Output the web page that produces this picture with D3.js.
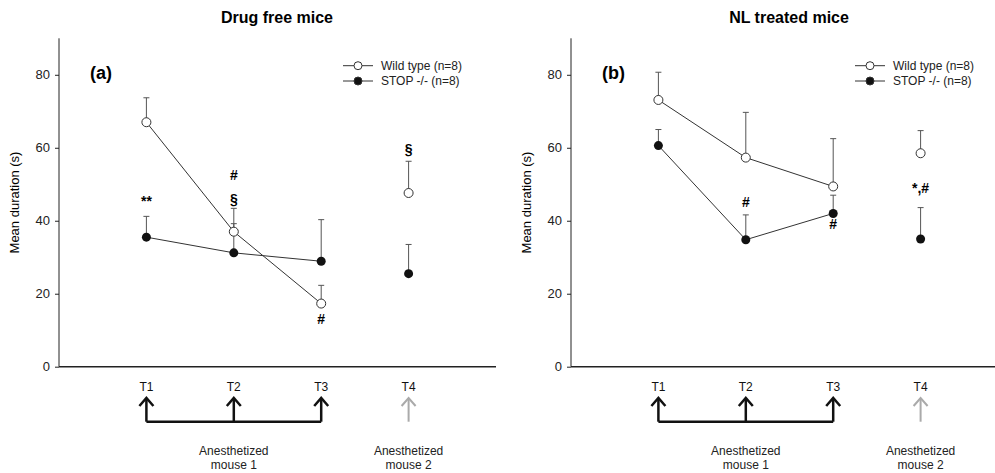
<!DOCTYPE html>
<html>
<head>
<meta charset="utf-8">
<script src="https://cdn.jsdelivr.net/npm/d3@7"></script>
<style>
  body { margin: 0; background: #fff; }
  svg { font-family: "Liberation Sans", Arial, sans-serif; }
</style>
</head>
<body>
<svg id="plot" width="995" height="473"></svg>
<script>
// time points
var times = ["T1", "T2", "T3", "T4"];

// drug free mice (a)
var wtFreeMean = [67.0, 37.0, 17.3, 47.6];
var wtFreeErr = [6.7, 6.4, 5.0, 8.7];
var stopFreeMean = [35.5, 31.2, 28.9, 25.5];
var stopFreeErr = [5.7, 8.0, 11.4, 8.0];
var freeMarks = [
    {t: 0, v: 45.5, s: "**"},
    {t: 1, v: 52.5, s: "#"},
    {t: 1, v: 46, s: "§"},
    {t: 2, v: 13, s: "#"},
    {t: 3, v: 59.6, s: "§"}
];

// NL treated mice (b)
var wtNLMean = [73.1, 57.3, 49.4, 58.5];
var wtNLErr = [7.6, 12.4, 13.1, 6.2];
var stopNLMean = [60.6, 34.8, 42.0, 35.0];
var stopNLErr = [4.4, 6.8, 5.0, 8.6];
var nlMarks = [
    {t: 1, v: 45, s: "#"},
    {t: 2, v: 39, s: "#"},
    {t: 3, v: 49, s: "*,#"}
];

var yTicks = [0, 20, 40, 60, 80];

var svg = d3.select("#plot");

function drawPanel(left, title, tag, wtMean, wtErr, stopMean, stopErr, marks) {
    var g = svg.append("g");
    var x = d3.scaleLinear().domain([0, 5]).range([left, left + 437]);
    var y = d3.scaleLinear().domain([0, 90]).range([366.7, 38.3]);

    // title
    g.append("text")
        .attr("x", left + 218).attr("y", 23)
        .attr("text-anchor", "middle")
        .attr("font-size", 16).attr("font-weight", "bold")
        .text(title);

    // y axis
    var yAxis = d3.axisLeft(y).tickValues(yTicks).tickSize(4).tickPadding(5);
    var ya = g.append("g").attr("transform", "translate(" + left + ",0)").call(yAxis);
    ya.select(".domain").attr("stroke", "#222").attr("d", "M0," + y(90) + "V" + y(0));
    ya.selectAll(".tick line").attr("stroke", "#222");
    ya.selectAll("text").attr("font-size", 13).attr("fill", "#222")
        .attr("font-family", "'Liberation Sans', Arial, sans-serif");

    // x axis (labels only)
    g.append("line")
        .attr("x1", x(0)).attr("x2", x(5))
        .attr("y1", y(0)).attr("y2", y(0))
        .attr("stroke", "#222").attr("stroke-width", 1.5);
    g.selectAll(".xlab").data(times).enter().append("text")
        .attr("x", function (d, i) { return x(i + 1); })
        .attr("y", 391)
        .attr("text-anchor", "middle")
        .attr("font-size", 12).attr("fill", "#111")
        .text(function (d) { return d; });

    // y label
    g.append("text")
        .attr("transform", "translate(" + (left - 40) + "," + y(45) + ") rotate(-90)")
        .attr("text-anchor", "middle")
        .attr("font-size", 13)
        .text("Mean duration (s)");

    // panel tag
    g.append("text")
        .attr("x", left + 31).attr("y", 79)
        .attr("font-size", 18).attr("font-weight", "bold")
        .text(tag);

    // error bars (upper only)
    function errBars(mean, err) {
        var e = g.append("g").attr("stroke", "#555").attr("stroke-width", 1);
        mean.forEach(function (m, i) {
            var cx = x(i + 1), top = y(m + err[i]);
            e.append("line").attr("x1", cx).attr("x2", cx).attr("y1", y(m)).attr("y2", top);
            e.append("line").attr("x1", cx - 3).attr("x2", cx + 3).attr("y1", top).attr("y2", top);
        });
    }
    errBars(stopMean, stopErr);
    errBars(wtMean, wtErr);

    var line = d3.line()
        .x(function (d, i) { return x(i + 1); })
        .y(function (d) { return y(d); });

    g.append("path").datum(wtMean.slice(0, 3)).attr("d", line)
        .attr("fill", "none").attr("stroke", "#333").attr("stroke-width", 1);
    g.append("path").datum(stopMean.slice(0, 3)).attr("d", line)
        .attr("fill", "none").attr("stroke", "#333").attr("stroke-width", 1);

    g.selectAll(".stopDot").data(stopMean).enter().append("circle")
        .attr("cx", function (d, i) { return x(i + 1); })
        .attr("cy", function (d) { return y(d); })
        .attr("r", 4.5).attr("fill", "#111");
    g.selectAll(".wtDot").data(wtMean).enter().append("circle")
        .attr("cx", function (d, i) { return x(i + 1); })
        .attr("cy", function (d) { return y(d); })
        .attr("r", 4.5).attr("fill", "#fff").attr("stroke", "#333").attr("stroke-width", 1);

    // significance marks
    g.selectAll(".mark").data(marks).enter().append("text")
        .attr("x", function (d) { return x(d.t + 1); })
        .attr("y", function (d) { return y(d.v); })
        .attr("dy", "0.35em")
        .attr("text-anchor", "middle")
        .attr("font-size", 14).attr("font-weight", "bold")
        .text(function (d) { return d.s; });

    // legend
    var lx = left + 284;
    var leg = [{label: "Wild type (n=8)", fill: "#fff", yy: 65.7},
               {label: "STOP -/- (n=8)", fill: "#111", yy: 81}];
    leg.forEach(function (d) {
        g.append("line").attr("x1", lx).attr("x2", lx + 30)
            .attr("y1", d.yy).attr("y2", d.yy).attr("stroke", "#333");
        g.append("circle").attr("cx", lx + 15).attr("cy", d.yy).attr("r", 4)
            .attr("fill", d.fill).attr("stroke", "#333");
        g.append("text").attr("x", lx + 38).attr("y", d.yy).attr("dy", "0.35em")
            .attr("font-size", 12).attr("fill", "#222").text(d.label);
    });

    // arrows below the axis
    var aTop = 398, aBot = 421.7;
    var arr = g.append("g").attr("fill", "none");
    [0, 1, 2, 3].forEach(function (i) {
        var cx = x(i + 1);
        var grey = i === 3;
        var a = arr.append("g")
            .attr("stroke", grey ? "#aaa" : "#111")
            .attr("stroke-width", grey ? 2 : 2.5);
        a.append("line").attr("x1", cx).attr("x2", cx).attr("y1", aTop).attr("y2", aBot);
        a.append("path").attr("d", "M" + (cx - 7) + "," + (aTop + 8) + "L" + cx + "," + aTop + "L" + (cx + 7) + "," + (aTop + 8));
    });
    arr.append("line").attr("x1", x(1)).attr("x2", x(3))
        .attr("y1", aBot).attr("y2", aBot)
        .attr("stroke", "#111").attr("stroke-width", 2.5);

    // captions
    [{cx: (x(1) + x(3)) / 2, n: "mouse 1"}, {cx: x(4), n: "mouse 2"}].forEach(function (c) {
        var t = g.append("text").attr("text-anchor", "middle").attr("font-size", 12).attr("fill", "#222");
        t.append("tspan").attr("x", c.cx).attr("y", 455).text("Anesthetized");
        t.append("tspan").attr("x", c.cx).attr("y", 469).text(c.n);
    });
}

drawPanel(59, "Drug free mice", "(a)", wtFreeMean, wtFreeErr, stopFreeMean, stopFreeErr, freeMarks);
drawPanel(571, "NL treated mice", "(b)", wtNLMean, wtNLErr, stopNLMean, stopNLErr, nlMarks);
</script>
</body>
</html>
